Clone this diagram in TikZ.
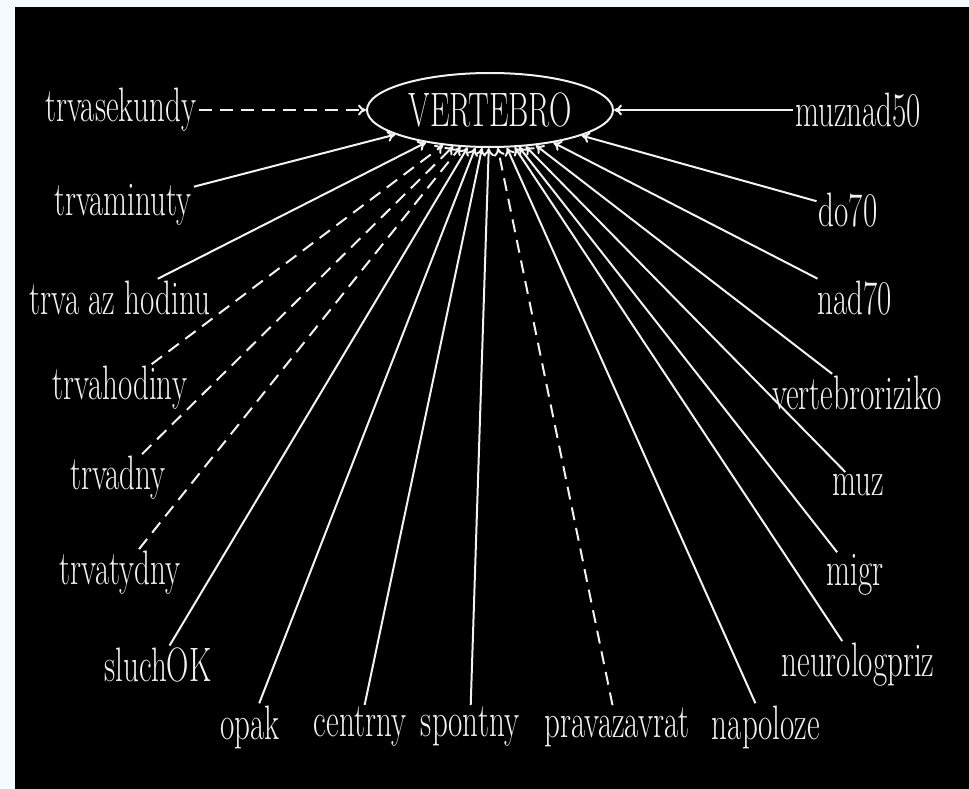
\documentclass[tikz,border=0pt]{standalone}
\usetikzlibrary{shapes.geometric,arrows.meta}
\definecolor{pagebg}{HTML}{F5FAFF}
\definecolor{ink}{HTML}{F2F2F2}
\newcommand{\lbl}[1]{\scalebox{1}[1.56]{#1}}
\tikzset{
  lab/.style={text=ink, inner sep=2pt, font=\fontsize{31}{33}\selectfont},
  hub/.style={draw=ink, line width=2pt, ellipse, minimum width=246pt, minimum height=74pt, inner sep=0pt, text=ink, font=\fontsize{31}{33}\selectfont},
  link/.style={draw=ink, line width=2pt, -{To[length=8pt,width=11pt]}},
  dlink/.style={link, dash pattern=on 13pt off 8pt}
}
\begin{document}
\begin{tikzpicture}[x=1pt,y=-1pt]
\fill[pagebg] (0,0) rectangle (969,789);
\fill[black] (15,7) rectangle (969,789);
\useasboundingbox (0,0) rectangle (969,789);
\node[hub] (V) at (490,110) {\lbl{VERTEBRO}};
\node[lab] (a1) at (121,110) {\lbl{trvasekundy}};
\node[lab] (a2) at (123,205) {\lbl{trvaminuty}};
\node[lab] (a3) at (120,298) {\lbl{trva az hodinu}};
\node[lab] (a4) at (120,388) {\lbl{trvahodiny}};
\node[lab] (a5) at (118,478) {\lbl{trvadny}};
\node[lab] (a6) at (120,573) {\lbl{trvatydny}};
\node[lab] (a7) at (158,665) {\lbl{sluchOK}};
\node[lab] (b1) at (858,110) {\lbl{muznad50}};
\node[lab] (b2) at (848,210) {\lbl{do70}};
\node[lab] (b3) at (855,298) {\lbl{nad70}};
\node[lab] (b4) at (857,393) {\lbl{vertebroriziko}};
\node[lab] (b5) at (858,485) {\lbl{muz}};
\node[lab] (b6) at (855,575) {\lbl{migr}};
\node[lab] (b7) at (858,665) {\lbl{neurologpriz}};
\node[lab] (c1) at (250,727) {\lbl{opak}};
\node[lab] (c2) at (360,727) {\lbl{centrny}};
\node[lab] (c3) at (470,727) {\lbl{spontny}};
\node[lab] (c4) at (617,727) {\lbl{pravazavrat}};
\node[lab] (c5) at (766,727) {\lbl{napoloze}};
\draw[dlink] (a1) -- (V);
\draw[link] (a2) -- (V);
\draw[link] (a3) -- (V);
\draw[dlink] (a4) -- (V);
\draw[dlink] (a5) -- (V);
\draw[dlink] (a6) -- (V);
\draw[link] (a7) -- (V);
\draw[link] (b1) -- (V);
\draw[link] (b2) -- (V);
\draw[link] (b3) -- (V);
\draw[link] (b4) -- (V);
\draw[link] (b5) -- (V);
\draw[link] (b6) -- (V);
\draw[link] (b7) -- (V);
\draw[link] (c1) -- (V);
\draw[link] (c2) -- (V);
\draw[link] (c3) -- (V);
\draw[dlink] (c4) -- (V);
\draw[link] (c5) -- (V);
\end{tikzpicture}
\end{document}
